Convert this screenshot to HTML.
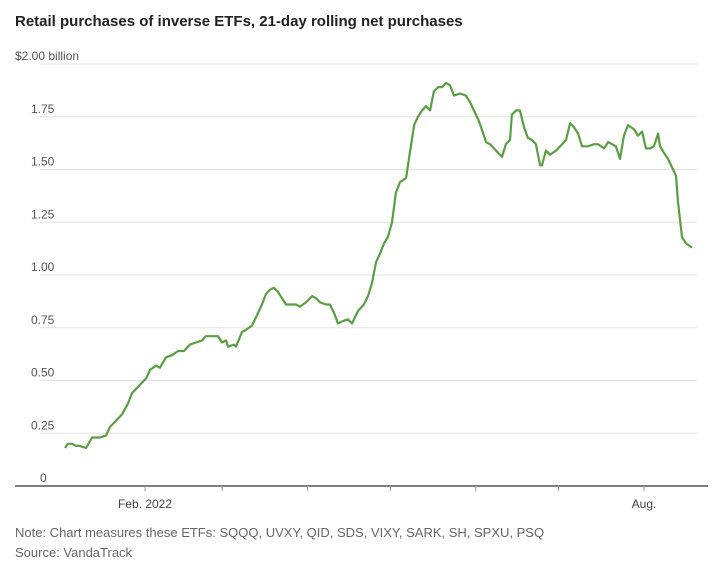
<!DOCTYPE html>
<html><head><meta charset="utf-8"><style>
body{margin:0;background:#fff;width:724px;height:575px;overflow:hidden;font-family:"Liberation Sans",sans-serif}
svg{position:absolute;left:0;top:0}
</style></head><body>
<svg id="chart" width="724" height="575">
<text x="15" y="26" font-size="15" font-weight="bold" fill="#222">Retail purchases of inverse ETFs, 21-day rolling net purchases</text>
<g id="grid"></g><g id="xaxis"></g><g id="series"></g>
<text x="15" y="537" font-size="13" fill="#666">Note: Chart measures these ETFs: SQQQ, UVXY, QID, SDS, VIXY, SARK, SH, SPXU, PSQ</text>
<text x="15" y="557" font-size="13" fill="#666">Source: VandaTrack</text>
</svg>
<script>
const yTicks=[0,0.25,0.5,0.75,1,1.25,1.5,1.75,2];
const yTickLabels=["0","0.25","0.50","0.75","1.00","1.25","1.50","1.75","$2.00 billion"];
const xTickDays=[0,28,59,89,120,150,181];
const xTickLabels=["Feb. 2022","","","","","","Aug."];
const days=[-29,-28,-26.5,-25,-23.6,-21.4,-19.2,-16.3,-14.1,-12.7,-10.5,-8.3,-6.2,-4.7,-1.8,0.4,1.8,4,5.4,7.6,9.8,12,14.1,16.3,18.5,20.7,22.1,25,26.5,27.9,29.4,30.1,32.3,33,35.2,36.6,38.8,41,42.4,43.9,45.3,46.8,48.2,49.7,51.1,53.3,54.8,56.2,58.4,60.6,62,63.5,65.7,67.1,68.6,70,71.5,73.6,75.1,77.3,79.4,80.9,82.3,83.8,85.2,86.7,88.1,89.6,91,92.5,94.7,96.1,97.6,99,100.5,101.9,103.4,104.8,106.3,107.7,109.2,110.6,112.1,114.3,116.4,117.9,119.3,120.8,122.2,123.7,125.1,126.6,128,129.5,130.9,132.4,133.1,134.6,136,137.5,138.9,140.4,141.8,143.3,144,145.4,146.9,149.1,151.3,152.7,154.2,155.6,157.1,158.5,160.7,162.9,164.3,166.5,168,169.4,170.8,172.3,173.7,175.2,177.4,178.8,180.3,181.7,183.2,184.6,186.1,186.8,188.2,189.7,191.2,192.6,193.3,194.8,196.2,198.4];
const values=[.18,.20,.20,.19,.19,.18,.23,.23,.24,.28,.31,.34,.39,.44,.48,.51,.55,.57,.56,.61,.62,.64,.64,.67,.68,.69,.71,.71,.71,.68,.69,.66,.67,.66,.73,.74,.76,.82,.86,.91,.93,.94,.92,.89,.86,.86,.86,.85,.87,.90,.89,.87,.86,.86,.82,.77,.78,.79,.77,.83,.86,.90,.96,1.06,1.10,1.15,1.18,1.25,1.39,1.44,1.46,1.58,1.71,1.75,1.78,1.80,1.78,1.87,1.89,1.89,1.91,1.90,1.85,1.86,1.85,1.82,1.78,1.74,1.69,1.63,1.62,1.60,1.58,1.56,1.62,1.64,1.76,1.78,1.78,1.70,1.65,1.64,1.62,1.52,1.52,1.59,1.57,1.59,1.62,1.64,1.72,1.70,1.67,1.61,1.61,1.62,1.62,1.60,1.63,1.62,1.61,1.55,1.66,1.71,1.69,1.66,1.68,1.60,1.60,1.61,1.67,1.61,1.58,1.55,1.51,1.47,1.35,1.18,1.15,1.13];
const NS="http://www.w3.org/2000/svg";
const x=d=>145+d*(499/181);
const y=v=>486-v*211;
function mk(t,a,p){const e=document.createElementNS(NS,t);for(const k in a)e.setAttribute(k,a[k]);p.appendChild(e);return e;}
const grid=document.getElementById('grid');
yTicks.forEach((t,i)=>{
  if(t>0){const l=mk('line',{x1:40,x2:697,y1:y(t),y2:y(t),stroke:'#e2e2e2','stroke-width':1},grid);
  
  }
  const tx=mk('text',{x:i==8?15:(i==0?40:31),y:y(t)-4,'font-size':12,fill:'#555'},grid);
  
  
  if(i==0)tx.setAttribute('x',40);
  tx.textContent=yTickLabels[i];
});
const xa=document.getElementById('xaxis');
const ax=mk('line',{x1:15,x2:708,y1:486,y2:486,stroke:'#333','stroke-width':1.2},xa);


xTickDays.forEach((d,i)=>{
  const tk=mk('line',{x1:x(d),x2:x(d),y1:486,y2:491,stroke:'#999'},xa);
  
  
  if(xTickLabels[i]){const t=mk('text',{x:x(d),y:508,'font-size':12,fill:'#444','text-anchor':'middle'},xa);
  
  
  t.textContent=xTickLabels[i];}
});
const pts=days.map((d,i)=>x(d).toFixed(1)+','+y(values[i]).toFixed(1)).join(' ');
const pl=mk('polyline',{points:pts,fill:'none',stroke:'#5a9e44','stroke-width':2.2,'stroke-linejoin':'round'},document.getElementById('series'));


</script>
</body></html>
